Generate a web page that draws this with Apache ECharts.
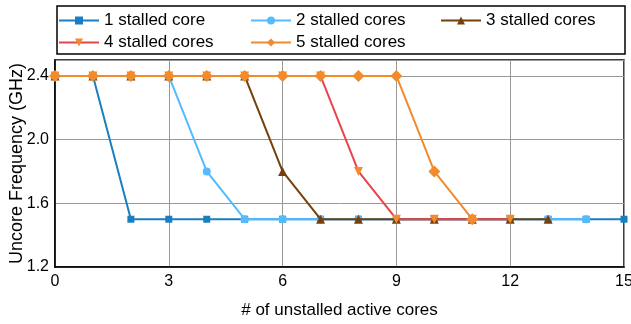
<!DOCTYPE html>
<html><head><meta charset="utf-8">
<script src="https://cdn.jsdelivr.net/npm/echarts@6/dist/echarts.min.js"></script>
<style>html,body{margin:0;padding:0;background:#fff}#c{width:631px;height:324px}</style>
</head><body><div id="c"></div>
<script>
const seriesNames = ['1 stalled core','2 stalled cores','3 stalled cores','4 stalled cores','5 stalled cores'];
const xValues = [0,1,2,3,4,5,6,7,8,9,10,11,12,13,14,15];
const s1 = [2.4,2.4,1.5,1.5,1.5,1.5,1.5,1.5,1.5,1.5,1.5,1.5,1.5,1.5,1.5,1.5];
const s2 = [2.4,2.4,2.4,2.4,1.8,1.5,1.5,1.5,1.5,1.5,1.5,1.5,1.5,1.5,1.5];
const s3 = [2.4,2.4,2.4,2.4,2.4,2.4,1.8,1.5,1.5,1.5,1.5,1.5,1.5,1.5];
const s4 = [2.4,2.4,2.4,2.4,2.4,2.4,2.4,2.4,1.8,1.5,1.5,1.5,1.5];
const s5 = [2.4,2.4,2.4,2.4,2.4,2.4,2.4,2.4,2.4,2.4,1.8,1.5];
const allValues = [s1,s2,s3,s4,s5];
const yTicks = [1.2,1.6,2.0,2.4];
const xTicks = [0,3,6,9,12,15];

const lineColors = ['#1a7fc1','#55bbff','#76400d','#e8444c','#f28a2e'];
const markColors = ['#1a7fc1','#55bbff','#76400d','#f28a2e','#f28a2e'];
const symbols = ['rect','circle','triangle','triangle','diamond'];
const symbolRot = [0,0,0,180,0];
const symbolSizes = [7,8,9,9,12];
const FONT = 'Liberation Sans, Arial, sans-serif';

const chart = echarts.init(document.getElementById('c'), null, {renderer:'canvas'});
const series = allValues.map((vals,i)=>({
  name: seriesNames[i], type:'line',
  data: vals.map((v,j)=>[xValues[j], v]),
  symbol: symbols[i], symbolRotate: symbolRot[i], symbolSize: symbolSizes[i],
  lineStyle:{color: lineColors[i], width: 2},
  itemStyle:{color: markColors[i], borderWidth:0},
  emphasis:{disabled:true}, animation:false, z: 2+i
}));
const legendPos = [[58,12],[250,12],[440,12],[58,34],[250,34]];
const legends = seriesNames.map((n,i)=>({
  data:[{name:n, itemStyle:{color:markColors[i]}, lineStyle:{color:lineColors[i], width:2}}],
  left: legendPos[i][0], top: legendPos[i][1], itemWidth: 40, itemHeight: 10, itemGap: 0,
  padding: 0, textStyle:{fontFamily: FONT, fontSize: 17, color:'#000', padding:[0,0,0,0]},
  selectedMode:false
}));
chart.setOption({
  animation:false,
  backgroundColor:'#fff',
  grid:{left:55, right:7, top:60, bottom:57, show:true, borderColor:'#000', borderWidth:1.5,
        containLabel:false, outerBoundsMode:'none'},
  legend: legends,
  graphic:[{type:'rect', shape:{x:57, y:6, width:568, height:48}, style:{fill:'none', stroke:'#000', lineWidth:1.5}, z:-1}],
  xAxis:{type:'value', min:xTicks[0], max:xTicks[xTicks.length-1], interval:3,
    name:'# of unstalled active cores', nameLocation:'middle', nameGap:35, nameMoveOverlap:false,
    nameTextStyle:{fontFamily:FONT, fontSize:17, color:'#000'},
    axisLine:{lineStyle:{color:'#000', width:1.5}}, axisTick:{show:false},
    axisLabel:{fontFamily:FONT, fontSize:16, color:'#000', margin:7},
    splitLine:{show:true, lineStyle:{color:'#999', width:1}}},
  yAxis:{type:'value', min:yTicks[0], max:2.5, interval:0.4,
    name:'Uncore Frequency (GHz)', nameLocation:'middle', nameGap:29, nameMoveOverlap:false,
    nameTextStyle:{fontFamily:FONT, fontSize:18, color:'#000'},
    axisLine:{lineStyle:{color:'#000', width:1.5}}, axisTick:{show:false},
    axisLabel:{fontFamily:FONT, fontSize:16, color:'#000', margin:6, showMaxLabel:false,
      formatter: v => v.toFixed(1)},
    splitLine:{show:true, lineStyle:{color:'#999', width:1}}},
  series: series
});
</script></body></html>
